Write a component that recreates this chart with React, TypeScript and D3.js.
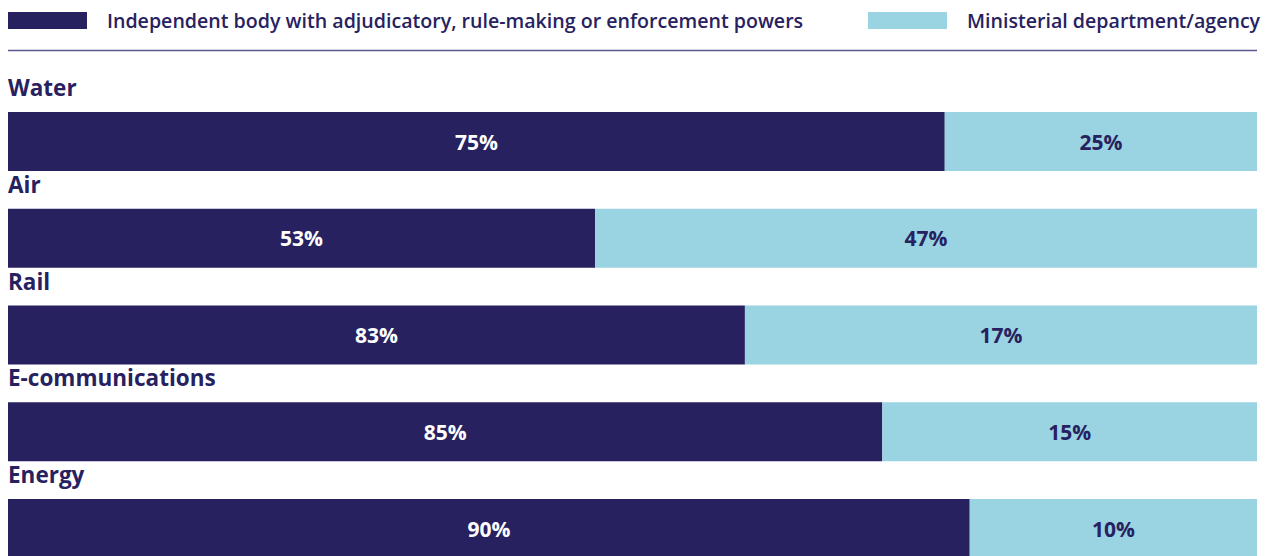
import React from "react";
import * as d3 from "d3";

const categories = ["Water", "Air", "Rail", "E-communications", "Energy"];
// Bar segment widths as drawn in the picture (percent of full width)
const independentBar = [75, 47, 59, 70, 77];
const ministerialBar = [25, 53, 41, 30, 23];
// Value labels printed on the bars
const independentLabel = [75, 53, 83, 85, 90];
const ministerialLabel = [25, 47, 17, 15, 10];
const seriesNames = [
  "Independent body with adjudicatory, rule-making or enforcement powers",
  "Ministerial department/agency",
];

const W = 1267;
const H = 556;
const DARK = "#27225f";
const LIGHT = "#9ad3e1";
const FONT = "'Open Sans', 'Noto Sans', sans-serif";

export default function App() {
  const x = d3.scaleLinear().domain([0, 100]).range([8, 1257]);
  const rows = d3
    .scaleBand<string>()
    .domain(categories)
    .range([80, 80 + 5 * 96.75])
    .padding(0);
  const labelOffset = 16;
  const barOffset = 32;
  const barH = 59;

  const legendX = [8, 868];

  return (
    <svg
      width={W}
      height={H}
      style={{ position: "absolute", left: 0, top: 0, display: "block" }}
      fontFamily={FONT}
    >
      <rect width={W} height={H} fill="#ffffff" />
      {seriesNames.map((name, i) => (
        <g key={name} transform={`translate(${legendX[i]},12)`}>
          <rect width={79} height={17} fill={i === 0 ? DARK : LIGHT} />
          <text
            x={99}
            y={8.5}
            dominantBaseline="central"
            fontSize={19.6}
            fontWeight={600}
            fill={DARK}
          >
            {name}
          </text>
        </g>
      ))}
      <line x1={8} x2={1257} y1={50.5} y2={50.5} stroke="#57578c" strokeWidth={1.5} />
      {categories.map((c, i) => {
        const y0 = rows(c)!;
        const barY = y0 + barOffset;
        const x0 = x(0);
        const x1 = x(independentBar[i]);
        const x2 = x(independentBar[i] + ministerialBar[i]);
        return (
          <g key={c}>
            <text
              x={8}
              y={y0 + labelOffset}
              fontSize={22.5}
              fontWeight={700}
              fill={DARK}
            >
              {c}
            </text>
            <rect x={x0} y={barY} width={x1 - x0} height={barH} fill={DARK} />
            <rect x={x1} y={barY} width={x2 - x1} height={barH} fill={LIGHT} />
            <text
              x={(x0 + x1) / 2}
              y={barY + barH / 2}
              textAnchor="middle"
              dominantBaseline="central"
              fontSize={21}
              fontWeight={700}
              fill="#ffffff"
            >
              {independentLabel[i]}%
            </text>
            <text
              x={(x1 + x2) / 2}
              y={barY + barH / 2}
              textAnchor="middle"
              dominantBaseline="central"
              fontSize={21}
              fontWeight={700}
              fill={DARK}
            >
              {ministerialLabel[i]}%
            </text>
          </g>
        );
      })}
    </svg>
  );
}
